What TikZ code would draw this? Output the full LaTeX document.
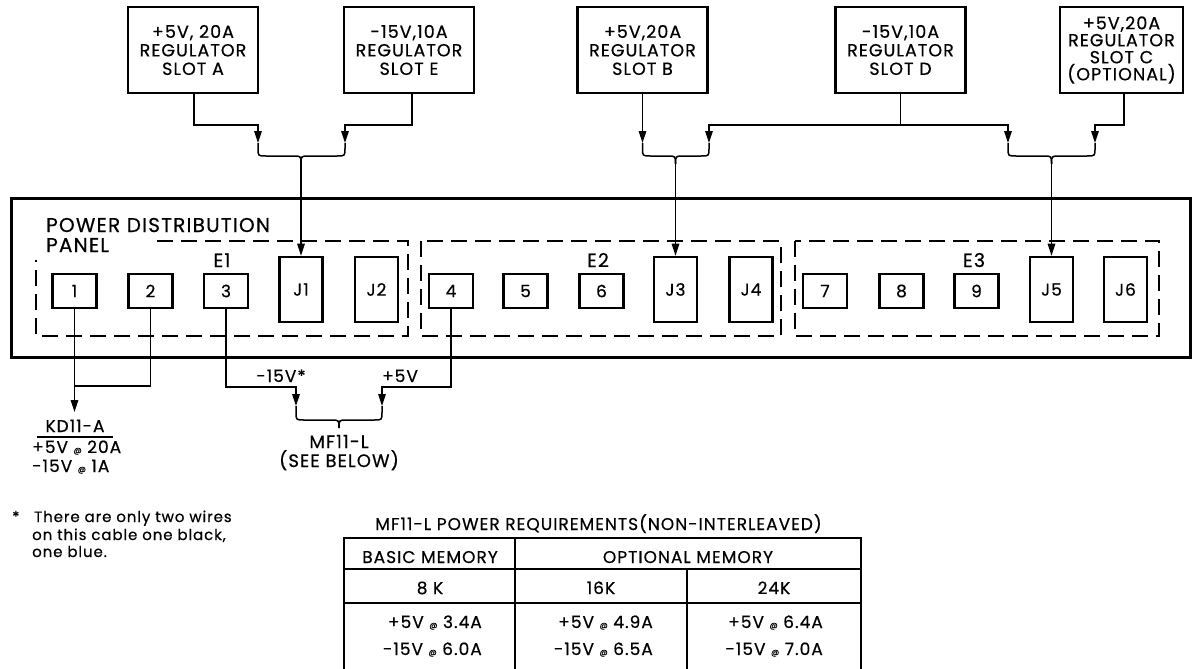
\documentclass[tikz,border=0pt]{standalone}
\usepackage{fontspec}
\setmainfont{Poppins}[LetterSpace=6,FakeBold=0.5]
\usetikzlibrary{arrows.meta}
\newcommand\smallat{{\fontsize{8}{8}\selectfont @}}
\newcommand\mybrace[6]{% xl, xm, xr, ytip, yh, ycusp
  \draw[wire] (#1,#4) -- (#1,#5-8) .. controls (#1,#5) and (#1,#5) .. (#1+8,#5) -- (#2-8,#5) .. controls (#2,#5) and (#2,#5) .. (#2,#6);
  \draw[wire] (#3,#4) -- (#3,#5-8) .. controls (#3,#5) and (#3,#5) .. (#3-8,#5) -- (#2+8,#5) .. controls (#2,#5) and (#2,#5) .. (#2,#6);
}
\begin{document}
\begin{tikzpicture}[x=1pt,y=-1pt,
  wire/.style={line width=1.5pt},
  arr/.style={wire,-{Triangle[length=12pt,width=7.5pt]}},
  reg/.style={draw,line width=2.8pt,minimum width=130pt,minimum height=86pt,align=center,inner sep=0pt,font=\fontsize{17.5}{18.5}\selectfont},
  sbox/.style={draw,line width=2.6pt,minimum width=44pt,minimum height=34pt,inner sep=0pt,font=\fontsize{17}{17}\selectfont},
  jbox/.style={draw,line width=2.6pt,minimum width=43pt,minimum height=65pt,inner sep=0pt,font=\fontsize{17}{17}\selectfont},
  dbox/.style={line width=2.8pt,dash pattern=on 16pt off 8pt},
  lbl/.style={font=\fontsize{17}{17}\selectfont,inner sep=0pt},
  foot/.style={font=\fontsize{15}{15}\selectfont,inner sep=0pt},
  big/.style={font=\fontsize{20}{20}\selectfont,inner sep=0pt},
  elbl/.style={font=\fontsize{19}{19}\selectfont,inner sep=0pt,anchor=base},
  tline/.style={line width=1.8pt},
]
\useasboundingbox (0,0) rectangle (1192,669);

% regulators
\node[reg] (A) at (193,50) {+5V, 20A\\REGULATOR\\SLOT A};
\node[reg] (E) at (409,50) {-15V,10A\\REGULATOR\\SLOT E};
\node[reg] (B) at (642.5,50) {+5V,20A\\REGULATOR\\SLOT B};
\node[reg] (D) at (900.5,50) {-15V,10A\\REGULATOR\\SLOT D};
\node[reg,minimum width=123pt,font=\fontsize{17.5}{17}\selectfont] (C) at (1121.5,50) {+5V,20A\\REGULATOR\\SLOT C\\(OPTIONAL)};

% panel
\draw[line width=3pt] (11,198) rectangle (1190,357);
\node[big,anchor=base west] (pt1) at (46,232) {POWER DISTRIBUTION};
\node[big,anchor=base west] (pt2) at (46,252) {PANEL};
\draw[dbox] (157,241) -| (408,336) -| (36,260);
\draw[dbox] (421,241) rectangle (781,336);
\draw[dbox] (795,241) rectangle (1159,336);
\node[elbl] (e1) at (222,267) {E1};
\node[elbl] (e2) at (598,267) {E2};
\node[elbl] (e3) at (974,267) {E3};

\node[sbox] (b1) at (74.5,291) {1};
\node[sbox] (b2) at (150.5,291) {2};
\node[sbox] (b3) at (226,291) {3};
\node[sbox] (b4) at (451,291) {4};
\node[sbox] (b5) at (525.5,291) {5};
\node[sbox] (b6) at (601.5,291) {6};
\node[sbox] (b7) at (825,291) {7};
\node[sbox] (b8) at (901.5,291) {8};
\node[sbox] (b9) at (976.5,291) {9};
\node[jbox] (J1) at (301,289.5) {J1};
\node[jbox] (J2) at (376.5,289.5) {J2};
\node[jbox] (J3) at (675.5,289.5) {J3};
\node[jbox] (J4) at (751,289.5) {J4};
\node[jbox] (J5) at (1051.5,289.5) {J5};
\node[jbox] (J6) at (1125.5,289.5) {J6};

% top connectors
\coordinate (cAE) at (301,164);
\coordinate (cBD) at (675.5,164);
\coordinate (cDC) at (1051.5,164);
\draw[arr] ([xshift=1pt]A.south) |- (258,125) -- (258,143);
\draw[arr] ([xshift=3pt]E.south) |- (345,125) -- (345,143);
\mybrace{258}{301}{345}{143}{156}{164}
\draw[arr] (cAE) -- (J1.north);

\draw[arr] (B.south) -- (642.5,143);
\draw[wire] (D.south) -- (900.5,125);
\draw[arr] (900.5,125) -| (709,143);
\draw[arr] (900.5,125) -| (1008,143);
\mybrace{642.5}{675.5}{709}{143}{156}{164}
\draw[arr] (cBD) -- (J3.north);

\draw[arr] ([xshift=2.5pt]C.south) |- (1095,125) -- (1095,143);
\mybrace{1008}{1051.5}{1095}{143}{156}{164}
\draw[arr] (cDC) -- (J5.north);

% bottom connectors
\coordinate (kdtip) at (74.5,412);
\coordinate (kdj) at (74.5,386);
\draw[arr] (b1.south) -- (kdtip);
\draw[wire] (b2.south) |- (kdj);
\draw[arr] (b3.south) |- (296,387) -- (296,406);
\draw[arr] (b4.south) |- (382,387) -- (382,406);
\mybrace{296}{339}{382}{406}{420}{428}
\node[lbl,anchor=base] (m15) at (281,382) {-15V*};
\node[lbl,anchor=base] (p5) at (400,382) {+5V};
\node[font=\fontsize{18}{18}\selectfont,inner sep=0pt,anchor=base] (mf) at (339,448) {MF11-L};
\node[font=\fontsize{18}{18}\selectfont,inner sep=0pt,anchor=base] (mfs) at (339,467) {(SEE BELOW)};

\node[lbl,anchor=base] (kd) at (75,432) {KD11-A};
\draw[wire] (37,437) -- (113,437);
\node[lbl,anchor=base west] (kd1) at (32,453) {+5V \smallat{} 20A};
\node[lbl,anchor=base west] (kd2) at (32,472) {-15V \smallat{} 1A};

% footnote
\node[foot,anchor=base west] (st) at (12,522) {*};
\node[foot,anchor=base west] (f1) at (34,522) {There are only two wires};
\node[foot,anchor=base west] (f2) at (32,540) {on this cable one black,};
\node[foot,anchor=base west] (f3) at (32,557) {one blue.};

% table
\node[lbl,anchor=base] (tt) at (598.5,530) {MF11-L POWER REQUIREMENTS(NON-INTERLEAVED)};
\draw[line width=2.6pt] (344,672) |- (861,538) -- (861,672);
\draw[tline] (344,569) -- (861,569);
\draw[tline] (344,603) -- (861,603);
\draw[tline] (515,538) -- (515,672);
\draw[tline] (687,569) -- (687,672);
\node[lbl,anchor=base] (h1) at (430,563) {BASIC MEMORY};
\node[lbl,anchor=base] (h2) at (688,563) {OPTIONAL MEMORY};
\node[lbl,anchor=base] (k8) at (430,594) {8 K};
\node[lbl,anchor=base] (k16) at (601,594) {16K};
\node[lbl,anchor=base] (k24) at (774,594) {24K};
\node[lbl,anchor=base east] (r11) at (482,628) {+5V \smallat{} 3.4A};
\node[lbl,anchor=base east] (r12) at (482,655) {-15V \smallat{} 6.0A};
\node[lbl,anchor=base east] (r21) at (653,628) {+5V \smallat{} 4.9A};
\node[lbl,anchor=base east] (r22) at (653,655) {-15V \smallat{} 6.5A};
\node[lbl,anchor=base east] (r31) at (823,628) {+5V \smallat{} 6.4A};
\node[lbl,anchor=base east] (r32) at (823,655) {-15V \smallat{} 7.0A};
\end{tikzpicture}
\end{document}
